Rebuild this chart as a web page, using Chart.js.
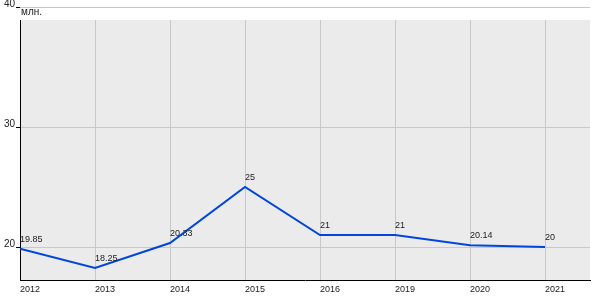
<!DOCTYPE html>
<html>
<head>
<meta charset="utf-8">
<script src="https://cdn.jsdelivr.net/npm/chart.js@4/dist/chart.umd.min.js"></script>
<style>
  html, body { margin: 0; padding: 0; background: #fff; }
  #wrap { width: 600px; height: 300px; }
</style>
</head>
<body>
<div id="wrap"><canvas id="c"></canvas></div>
<script>
// ── data ────────────────────────────────────────────────
const YEARS = ["2012", "2013", "2014", "2015", "2016", "2019", "2020", "2021"];
const VALUES = [19.85, 18.25, 20.33, 25, 21, 21, 20.14, 20];
const VALUE_LABELS = ["19.85", "18.25", "20.33", "25", "21", "21", "20.14", "20"];
const Y_TICKS = [20, 30, 40];
const UNIT = "млн.";

const FAMILY = "Arial, 'Liberation Sans', sans-serif";
const FONT = { family: FAMILY, size: 9 };
const TXT = "#222";
const GRID = "#c8c8c8";
const PANEL = "#ebebeb";
const LINE = "#0046dc";

// panel background, vertical grid, left axis line, labels
const panel = {
  id: "panel",
  beforeDraw(chart) {
    const { ctx, chartArea: a, scales } = chart;
    const top = a.top + 13;
    ctx.save();
    ctx.fillStyle = PANEL;
    ctx.fillRect(a.left, top, a.right - a.left, a.bottom - top);
    ctx.strokeStyle = GRID;
    ctx.lineWidth = 1;
    YEARS.forEach((_, i) => {
      const x = Math.round(scales.x.getPixelForValue(i)) + 0.5;
      ctx.beginPath();
      ctx.moveTo(x, top);
      ctx.lineTo(x, a.bottom);
      ctx.stroke();
    });
    ctx.restore();
  },
  beforeDatasetsDraw(chart) {
    const { ctx, chartArea: a } = chart;
    ctx.save();
    ctx.strokeStyle = "#000";
    ctx.lineWidth = 1;
    ctx.beginPath();
    ctx.moveTo(a.left + 0.5, a.top + 13);
    ctx.lineTo(a.left + 0.5, a.bottom);
    ctx.stroke();
    ctx.font = `10px ${FAMILY}`;
    ctx.fillStyle = TXT;
    ctx.textAlign = "left";
    ctx.textBaseline = "alphabetic";
    ctx.fillText(UNIT, a.left + 1, a.top + 8);
    ctx.restore();
  },
  afterDatasetsDraw(chart) {
    const { ctx } = chart;
    const meta = chart.getDatasetMeta(0);
    ctx.save();
    ctx.font = `${FONT.size}px ${FAMILY}`;
    ctx.fillStyle = TXT;
    ctx.textAlign = "left";
    ctx.textBaseline = "alphabetic";
    meta.data.forEach((p, i) => {
      ctx.fillText(VALUE_LABELS[i], p.x, p.y - 7);
    });
    ctx.restore();
  },
};

new Chart(document.getElementById("c"), {
  type: "line",
  data: {
    datasets: [
      {
        data: VALUES.map((v, i) => ({ x: i, y: v })),
        borderColor: LINE,
        borderWidth: 2,
        pointRadius: 0,
        tension: 0,
        fill: false,
      },
    ],
  },
  options: {
    responsive: true,
    maintainAspectRatio: false,
    animation: false,
    layout: { padding: { top: 7, right: 10, left: 0, bottom: 0 } },
    plugins: { legend: { display: false }, tooltip: { enabled: false } },
    scales: {
      x: {
        type: "linear",
        min: 0,
        max: 7.6,
        afterBuildTicks: (s) => { s.ticks = YEARS.map((_, i) => ({ value: i })); },
        afterFit: (s) => { s.height = 20; },
        grid: { display: false, drawTicks: false },
        border: { display: true, color: "#000", width: 1 },
        ticks: {
          align: "start",
          padding: 4,
          maxRotation: 0,
          autoSkip: false,
          color: TXT,
          font: FONT,
          callback: (v) => YEARS[v] ?? "",
        },
      },
      y: {
        min: 17.25,
        max: 40,
        afterBuildTicks: (s) => { s.ticks = Y_TICKS.map((v) => ({ value: v })); },
        afterFit: (s) => { s.width = 20; },
        grid: { color: GRID, tickColor: "#000", tickLength: 4, drawTicks: true },
        border: { display: false },
        ticks: {
          padding: 1,
          labelOffset: -3,
          color: TXT,
          font: { family: FAMILY, size: 10 },
        },
      },
    },
  },
  plugins: [panel],
});
</script>
</body>
</html>
